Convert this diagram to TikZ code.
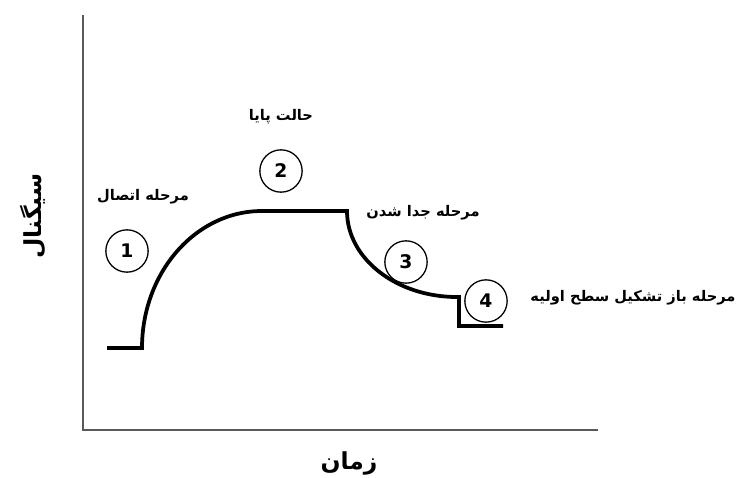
\documentclass[tikz,border=0pt]{standalone}
\usepackage{fontspec}
\newfontfamily\arabicfont[Script=Arabic]{DejaVu Sans}
\TeXXeTstate=1
\tikzset{
  stage/.style={draw, circle, line width=1.1pt, minimum size=1.27cm, inner sep=0pt, font=\arabicfont\bfseries\fontsize{16}{18}\selectfont},
  label/.style={font=\arabicfont\bfseries\fontsize{12.5}{15}\selectfont},
  axislabel/.style={font=\arabicfont\bfseries\fontsize{20}{24}\selectfont},
  axis/.style={line width=1.4pt, draw=black!65},
  signal/.style={line width=3.2pt, line join=miter}
}
\begin{document}
\begin{tikzpicture}[x=0.03cm, y=-0.03cm]
    \useasboundingbox (0,0) rectangle (737,477);
    % axes
    \coordinate (Origin) at (83,430);
    \coordinate (Ytop) at (83,15);
    \coordinate (Xend) at (598,430);
    \draw[axis] (Ytop) -- (Origin) -- (Xend);
    \node[axislabel] (Time) at (349,463) {\beginR زمان\endR};
    \node[axislabel, rotate=90] (Signal) at (33,216) {\beginR سیگنال\endR};
    % signal curve
    \draw[signal] (107,348) -- (142,348) arc[start angle=180, end angle=90, x radius=120, y radius=-137]
      -- (347,211) arc[start angle=180, end angle=270, x radius=110, y radius=-86]
      -- (459,297) -- (459,326) -- (503,326);
    % stages
    \node[stage] (One) at (127,251) {1};
    \node[stage] (Two) at (281,171) {2};
    \node[stage] (Three) at (406,262) {3};
    \node[stage] (Four) at (486,301) {4};
    \node[label] (Contact) at (143,197) {\beginR مرحله اتصال\endR};
    \node[label] (Steady) at (281,117) {\beginR حالت پایا\endR};
    \node[label] (Detach) at (423,213) {\beginR مرحله جدا شدن\endR};
    \node[label] (Recover) at (633,298) {\beginR مرحله باز تشکیل سطح اولیه\endR};
\end{tikzpicture}
\end{document}
